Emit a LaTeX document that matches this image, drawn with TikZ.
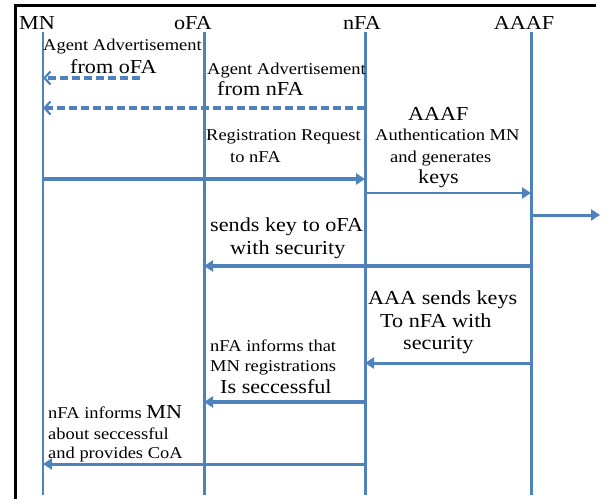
\documentclass[tikz,border=0pt]{standalone}
\usepackage{fontspec}
\setmainfont{Liberation Serif}[FakeStretch=1.12]
\usetikzlibrary{arrows.meta}
\definecolor{seqblue}{RGB}{79,129,189}
\newcommand\txtS{\fontsize{16.5}{19}\selectfont}
\newcommand\txtL{\fontsize{19.8}{22}\selectfont}

\begin{document}
\begin{tikzpicture}[x=1pt,y=-1pt,
  lifeline/.style={draw=seqblue, line width=3pt},
  msg/.style={draw=seqblue, -{Triangle[length=9pt,width=11pt]}},
  adv/.style={draw=seqblue, line width=3.5pt, dash pattern=on 8pt off 4pt,
    -{Straight Barb[length=6pt,width=13pt,line width=2.2pt]}},
  head/.style={anchor=base, inner sep=0pt, font=\txtL},
  note/.style={anchor=base west, inner sep=0pt},
]
\useasboundingbox (0,0) rectangle (606,499);

% frame
\draw[black, line width=3pt] (15,499) -- (15,5) -- (596,5);

% participants
\node[head] (hMN)   at (37,29)  {MN};
\node[head] (hoFA)  at (193,29) {oFA};
\node[head] (hnFA)  at (362,29) {nFA};
\node[head] (hAAAF) at (524,29) {AAAF};

% lifelines
\coordinate (MN)   at (43,32);  \coordinate (MNb)   at (43,495);
\coordinate (oFA)  at (204,32); \coordinate (oFAb)  at (204,495);
\coordinate (nFA)  at (365,32); \coordinate (nFAb)  at (365,495);
\coordinate (AAAF) at (531,32); \coordinate (AAAFb) at (531,495);
\draw[lifeline, line width=2.5pt] (MN) -- (MNb);
\draw[lifeline] (oFA) -- (oFAb);
\draw[lifeline] (nFA) -- (nFAb);
\draw[lifeline] (AAAF) -- (AAAFb);

% message levels
\coordinate (y1) at (0,78);
\coordinate (s1) at (140,78);
\coordinate (y2) at (0,108);
\coordinate (y3) at (0,179);
\coordinate (y4) at (0,193);
\coordinate (y5) at (0,215);
\coordinate (out) at (600,215);
\coordinate (y6) at (0,266);
\coordinate (y7) at (0,363);
\coordinate (y8) at (0,402);
\coordinate (y9) at (0,464);

% messages
\draw[adv] (s1) -- (MN |- y1);
\draw[adv] (nFA |- y2) -- (MN |- y2);
\draw[msg, line width=4pt] (MN |- y3) -- (nFA |- y3);
\draw[msg, line width=2.5pt] (nFA |- y4) -- (AAAF |- y4);
\draw[msg, line width=3pt] (AAAF |- y5) -- (out);
\draw[msg, line width=4pt] (AAAF |- y6) -- (oFA |- y6);
\draw[msg, line width=3pt] (AAAF |- y7) -- (nFA |- y7);
\draw[msg, line width=4.5pt] (nFA |- y8) -- (oFA |- y8);
\draw[msg, line width=3pt] (nFA |- y9) -- (MN |- y9);

% labels
\node[note] (t1a) at (43,50)  {\txtS Agent Advertisement};
\node[note] (t1b) at (70,73)  {\txtL from oFA};
\node[note] (t2a) at (207,74) {\txtS Agent Advertisement};
\node[note] (t2b) at (217,95) {\txtL from nFA};
\node[note] (t3a) at (206,140) {\txtS Registration Request};
\node[note] (t3b) at (230,162) {\txtS to nFA};
\node[note] (t4a) at (408,120) {\txtL AAAF};
\node[note] (t4b) at (375,140) {\txtS Authentication MN};
\node[note] (t4c) at (390,162) {\txtS and generates};
\node[note] (t4d) at (418,183) {\txtL keys};
\node[note] (t6a) at (210,231) {\txtL sends key to oFA};
\node[note] (t6b) at (230,254) {\txtL with security};
\node[note] (t7a) at (368,304) {\txtL AAA sends keys};
\node[note] (t7b) at (380,327) {\txtL To nFA with};
\node[note] (t7c) at (403,349) {\txtL security};
\node[note] (t8a) at (210,351) {\txtS nFA informs that};
\node[note] (t8b) at (210,371) {\txtS MN registrations};
\node[note] (t8c) at (220,393) {\txtL Is seccessful};
\node[note] (t9a) at (48,418) {\txtS nFA informs \txtL MN};
\node[note] (t9b) at (48,439) {\txtS about seccessful};
\node[note] (t9c) at (48,458) {\txtS and provides CoA};
\end{tikzpicture}
\end{document}
